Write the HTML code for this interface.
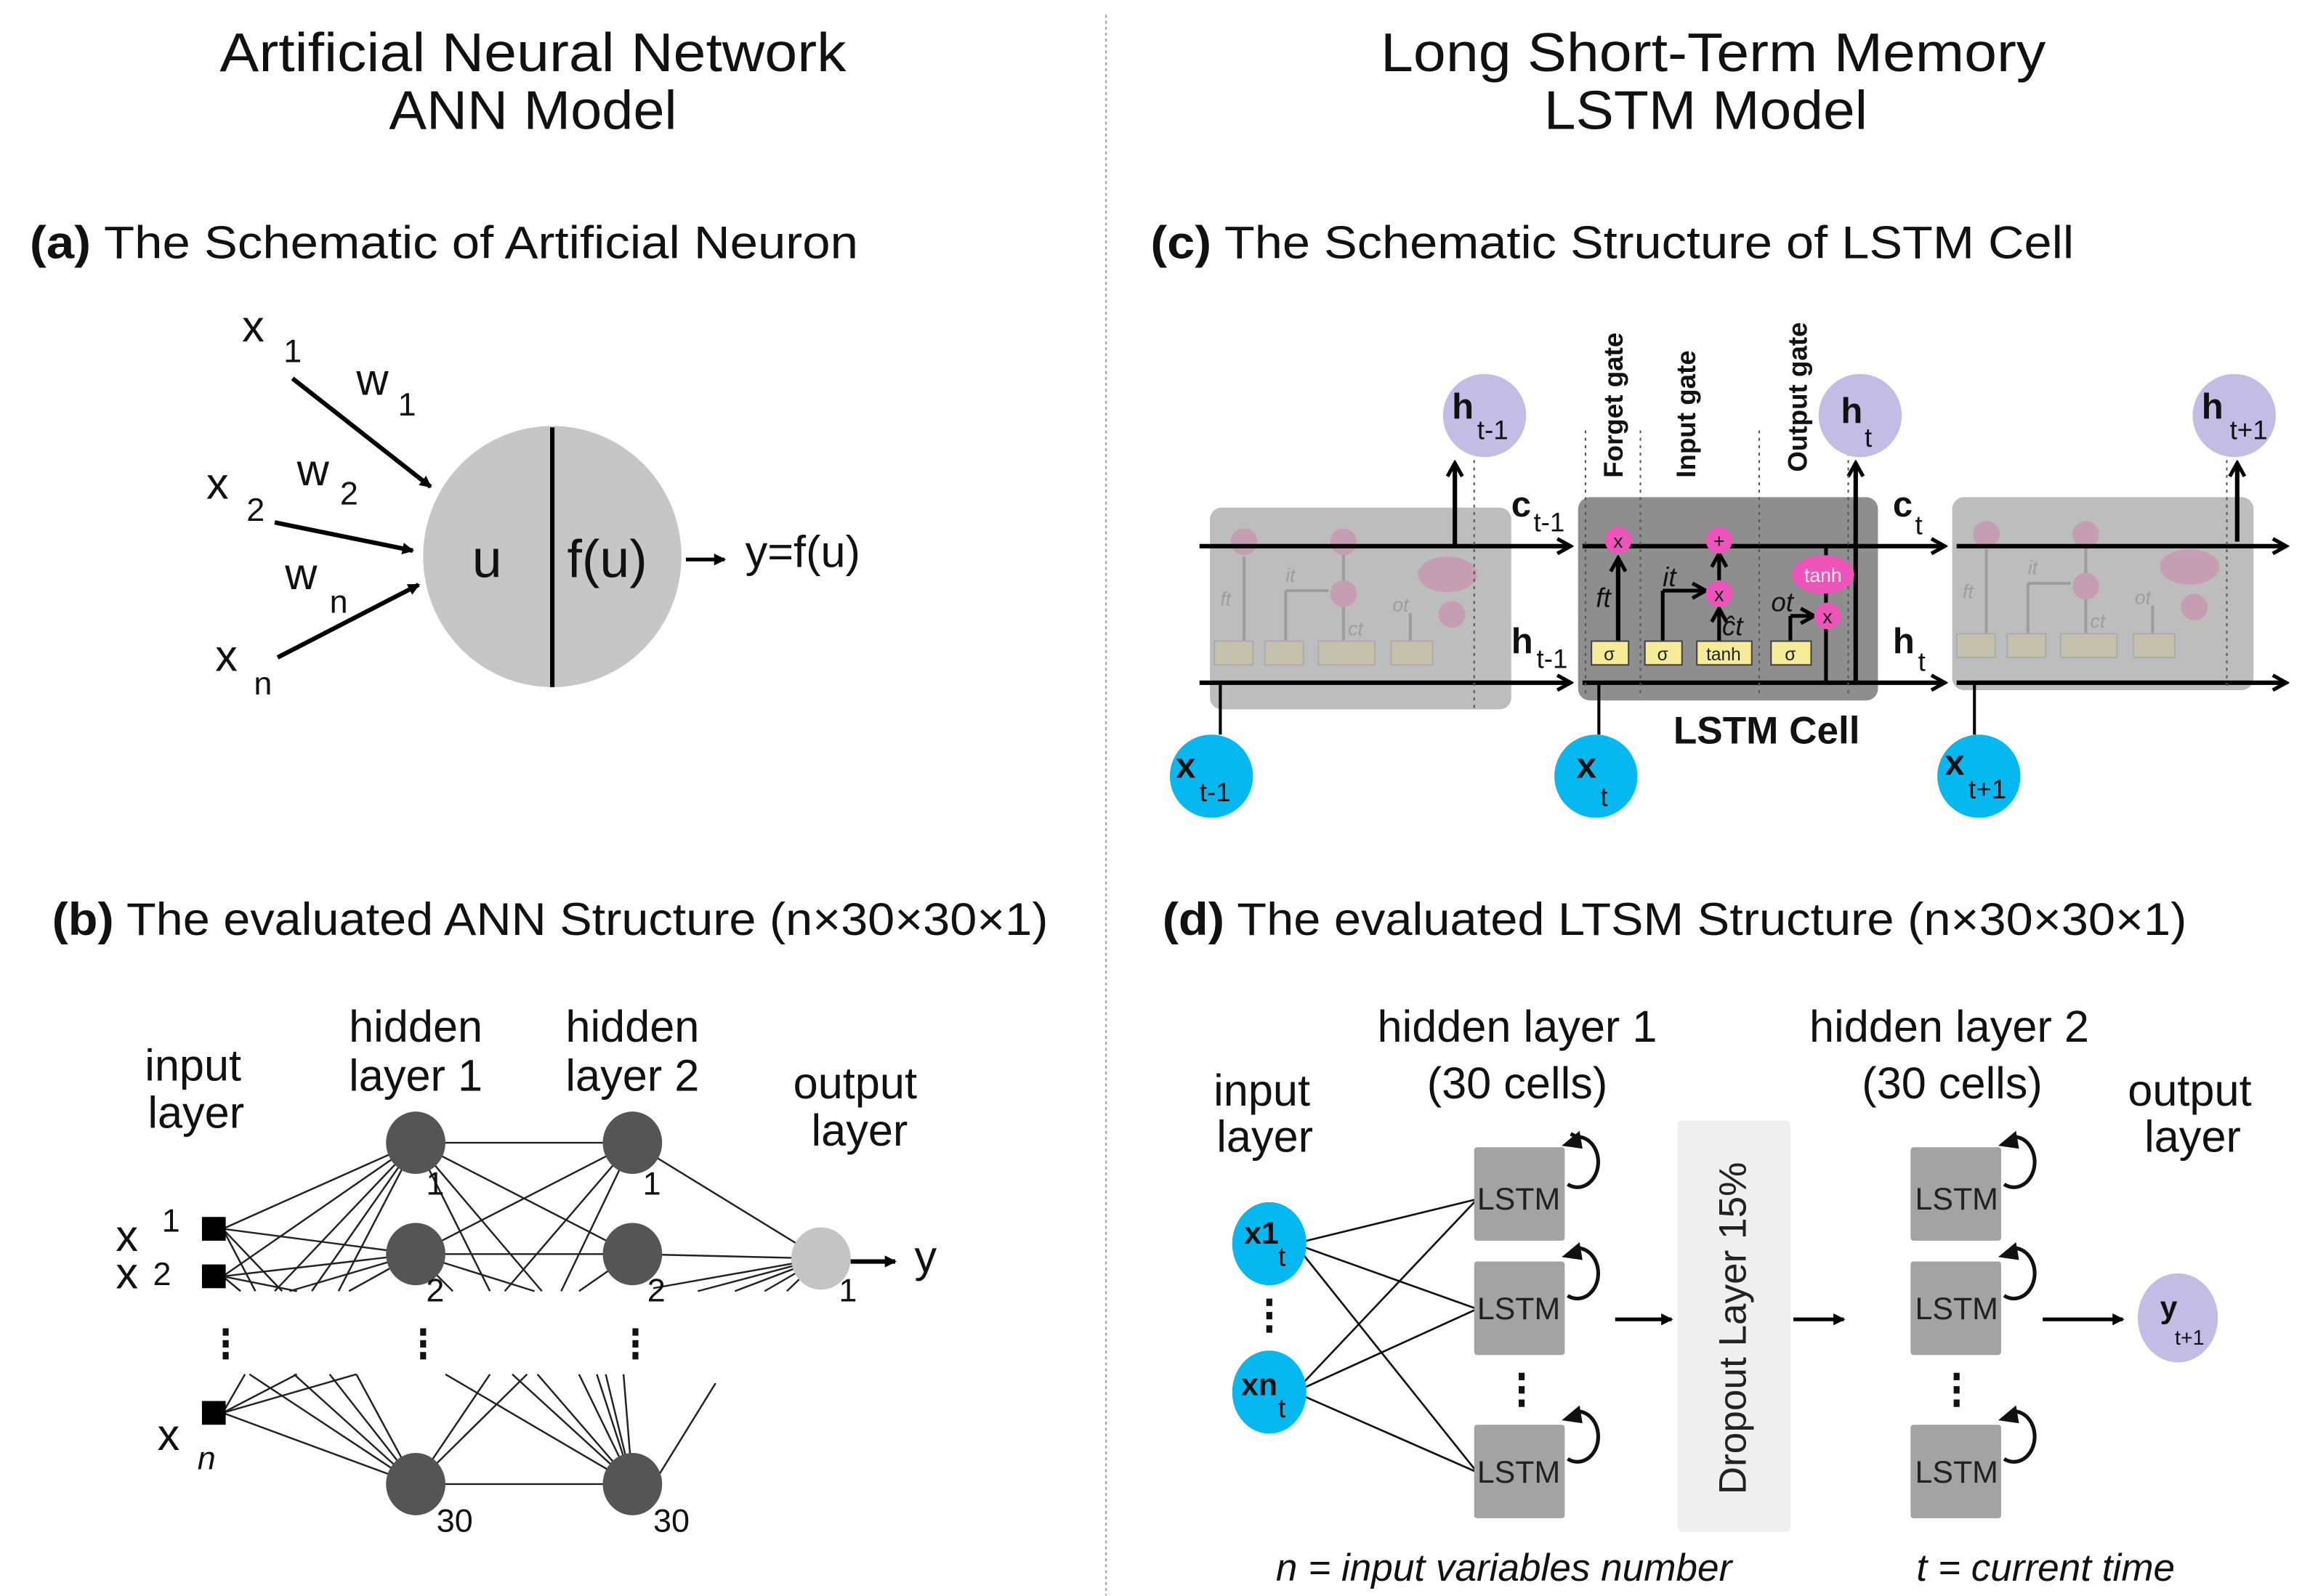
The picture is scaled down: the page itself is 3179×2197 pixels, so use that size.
<!DOCTYPE html>
<html><head><meta charset="utf-8"><style>
html,body{margin:0;padding:0;background:#fff}
svg{display:block}
text{font-family:"Liberation Sans",sans-serif}
</style></head><body>
<svg width="3179" height="2197" viewBox="0 0 1556 1075.4" xmlns="http://www.w3.org/2000/svg">
<defs>
<marker id="ar" markerWidth="8" markerHeight="8" refX="7" refY="4" orient="auto" markerUnits="userSpaceOnUse"><path d="M0,0 L8,4 L0,8 z" fill="#000"/></marker>
<marker id="ao" markerWidth="12" markerHeight="12" refX="10" refY="6" orient="auto" markerUnits="userSpaceOnUse"><path d="M1,1 L10,6 L1,11" fill="none" stroke="#000" stroke-width="2.5"/></marker>
<marker id="ag" markerWidth="12" markerHeight="12" refX="10" refY="6" orient="auto" markerUnits="userSpaceOnUse"><path d="M1,1 L10,6 L1,11" fill="none" stroke="#666" stroke-width="2.5"/></marker>
</defs>
<rect width="1556" height="1076" fill="#fff"/>
<line x1="745" y1="10" x2="745" y2="1075" stroke="#aaa" stroke-width="1.2" stroke-dasharray="2,2"/>

<!-- titles -->
<g font-size="37" text-anchor="middle" fill="#111">
<text x="359" y="48" textLength="422" lengthAdjust="spacingAndGlyphs">Artificial Neural Network</text>
<text x="359" y="87" textLength="194" lengthAdjust="spacingAndGlyphs">ANN Model</text>
<text x="1154" y="48" textLength="448" lengthAdjust="spacingAndGlyphs">Long Short-Term Memory</text>
<text x="1149" y="87" textLength="218" lengthAdjust="spacingAndGlyphs">LSTM Model</text>
</g>
<g font-size="31" fill="#111">
<text x="20" y="174" textLength="558" lengthAdjust="spacingAndGlyphs"><tspan font-weight="bold">(a)</tspan> The Schematic of Artificial Neuron</text>
<text x="775" y="174" textLength="622" lengthAdjust="spacingAndGlyphs"><tspan font-weight="bold">(c)</tspan> The Schematic Structure of LSTM Cell</text>
<text x="35" y="630" textLength="671" lengthAdjust="spacingAndGlyphs"><tspan font-weight="bold">(b)</tspan> The evaluated ANN Structure (n×30×30×1)</text>
<text x="783" y="630" textLength="690" lengthAdjust="spacingAndGlyphs"><tspan font-weight="bold">(d)</tspan> The evaluated LTSM Structure (n×30×30×1)</text>
</g>

<!-- (a) neuron -->
<ellipse cx="372" cy="375" rx="87" ry="88" fill="#c6c6c6"/>
<line x1="372" y1="288" x2="372" y2="463" stroke="#000" stroke-width="3"/>
<g font-size="36" fill="#111">
<text x="318" y="389">u</text>
<text x="382" y="389">f(u)</text>
</g>
<line x1="462" y1="377" x2="488" y2="377" stroke="#000" stroke-width="2.5" marker-end="url(#ar)"/>
<text x="502" y="382" font-size="30" fill="#111">y=f(u)</text>
<g stroke="#000" stroke-width="3" marker-end="url(#ar)">
<line x1="197" y1="255" x2="290" y2="328"/>
<line x1="185" y1="352" x2="278" y2="371"/>
<line x1="187" y1="443" x2="282" y2="394"/>
</g>
<g font-size="30" fill="#111">
<text x="163" y="230">x</text><text x="191" y="244" font-size="22">1</text>
<text x="240" y="266">w</text><text x="268" y="280" font-size="22">1</text>
<text x="139" y="336">x</text><text x="166" y="351" font-size="22">2</text>
<text x="200" y="327">w</text><text x="229" y="340" font-size="22">2</text>
<text x="192" y="397">w</text><text x="222" y="413" font-size="22">n</text>
<text x="145" y="452">x</text><text x="171" y="468" font-size="22">n</text>
</g>

<!-- (b) ANN -->
<g font-size="30" fill="#111" text-anchor="middle">
<text x="130" y="728">input</text><text x="132" y="760">layer</text>
<text x="280" y="702">hidden</text><text x="280" y="735">layer 1</text>
<text x="426" y="702">hidden</text><text x="426" y="735">layer 2</text>
<text x="576" y="740">output</text><text x="579" y="772">layer</text>
</g>
<g stroke="#222" stroke-width="1.2">
<!-- inputs to h1 -->
<line x1="150" y1="828" x2="280" y2="770"/><line x1="150" y1="828" x2="280" y2="845"/>
<line x1="150" y1="860" x2="280" y2="770"/><line x1="150" y1="860" x2="280" y2="845"/>
<line x1="150" y1="828" x2="172" y2="870"/><line x1="150" y1="828" x2="190" y2="870"/><line x1="150" y1="860" x2="162" y2="870"/><line x1="150" y1="860" x2="200" y2="870"/>
<line x1="185" y1="870" x2="280" y2="770"/><line x1="210" y1="870" x2="280" y2="770"/><line x1="228" y1="870" x2="280" y2="770"/>
<line x1="195" y1="870" x2="280" y2="845"/><line x1="235" y1="870" x2="280" y2="845"/>
<!-- h1 to h2 -->
<line x1="280" y1="770" x2="426" y2="770"/><line x1="280" y1="770" x2="426" y2="845"/>
<line x1="280" y1="845" x2="426" y2="770"/><line x1="280" y1="845" x2="426" y2="845"/>
<line x1="280" y1="770" x2="330" y2="870"/><line x1="280" y1="770" x2="365" y2="870"/><line x1="280" y1="845" x2="305" y2="870"/><line x1="280" y1="845" x2="360" y2="870"/>
<line x1="340" y1="870" x2="426" y2="770"/><line x1="378" y1="870" x2="426" y2="770"/><line x1="390" y1="870" x2="426" y2="845"/>
<!-- h2 to out -->
<line x1="426" y1="770" x2="553" y2="848"/><line x1="426" y1="845" x2="553" y2="848"/>
<line x1="440" y1="868" x2="553" y2="848"/><line x1="470" y1="870" x2="553" y2="848"/><line x1="495" y1="870" x2="553" y2="848"/><line x1="515" y1="870" x2="553" y2="848"/><line x1="530" y1="870" x2="553" y2="848"/>
<!-- bottom -->
<line x1="150" y1="952" x2="165" y2="926"/><line x1="150" y1="952" x2="200" y2="926"/><line x1="150" y1="952" x2="240" y2="926"/>
<line x1="150" y1="952" x2="280" y2="1000"/>
<line x1="168" y1="926" x2="280" y2="1000"/><line x1="198" y1="926" x2="280" y2="1000"/><line x1="222" y1="926" x2="280" y2="1000"/><line x1="240" y1="926" x2="280" y2="1000"/>
<line x1="280" y1="1000" x2="426" y2="1000"/>
<line x1="280" y1="1000" x2="330" y2="926"/><line x1="280" y1="1000" x2="355" y2="926"/>
<line x1="300" y1="926" x2="426" y2="1000"/><line x1="345" y1="926" x2="426" y2="1000"/><line x1="362" y1="926" x2="426" y2="1000"/><line x1="390" y1="926" x2="426" y2="1000"/><line x1="402" y1="926" x2="426" y2="1000"/>
<line x1="426" y1="1000" x2="408" y2="926"/><line x1="426" y1="1000" x2="420" y2="926"/>
<line x1="440" y1="1000" x2="482" y2="932"/>
</g>
<rect x="136" y="820" width="16" height="16" fill="#000"/>
<rect x="136" y="852" width="16" height="16" fill="#000"/>
<rect x="136" y="944" width="16" height="16" fill="#000"/>
<g fill="#555">
<ellipse cx="280" cy="770" rx="20" ry="21"/><ellipse cx="280" cy="845" rx="20" ry="21"/><ellipse cx="280" cy="1000" rx="20" ry="21"/>
<ellipse cx="426" cy="770" rx="20" ry="21"/><ellipse cx="426" cy="845" rx="20" ry="21"/><ellipse cx="426" cy="1000" rx="20" ry="21"/>
</g>
<ellipse cx="553" cy="848" rx="20" ry="21" fill="#c4c4c4"/>
<line x1="573" y1="850" x2="603" y2="850" stroke="#000" stroke-width="3" marker-end="url(#ar)"/>
<g font-size="22" fill="#111">
<text x="287" y="805">1</text><text x="287" y="877">2</text><text x="294" y="1032">30</text>
<text x="433" y="805">1</text><text x="436" y="877">2</text><text x="440" y="1032">30</text>
<text x="565" y="877">1</text>
<text x="109" y="830">1</text><text x="103" y="866">2</text>
</g>
<g font-size="30" fill="#111">
<text x="616" y="857">y</text>
<text x="78" y="843">x</text><text x="78" y="868">x</text><text x="106" y="977">x</text>
<text x="133" y="990" font-size="22" font-style="italic">n</text>
</g>
<g fill="#111">
<rect x="150" y="895" width="4" height="5"/><rect x="150" y="903" width="4" height="5"/><rect x="150" y="911" width="4" height="5"/>
<rect x="283" y="895" width="4" height="5"/><rect x="283" y="903" width="4" height="5"/><rect x="283" y="911" width="4" height="5"/>
<rect x="426" y="895" width="4" height="5"/><rect x="426" y="903" width="4" height="5"/><rect x="426" y="911" width="4" height="5"/>
</g>

<!-- (c) LSTM -->
<rect x="815" y="342" width="203" height="136" rx="8" fill="#bdbdbd"/>
<rect x="1063" y="335" width="202" height="137" rx="8" fill="#8e8e8e"/>
<rect x="1315" y="335" width="203" height="130" rx="8" fill="#bdbdbd"/>
<!-- faded cell internals -->
<g opacity="0.45">
<g id="faded">
<line x1="838" y1="440" x2="838" y2="375" stroke="#777" stroke-width="2"/>
<line x1="866" y1="440" x2="866" y2="398" stroke="#777" stroke-width="2"/><line x1="866" y1="398" x2="895" y2="398" stroke="#777" stroke-width="2"/>
<line x1="905" y1="440" x2="905" y2="372" stroke="#777" stroke-width="2"/>
<line x1="950" y1="440" x2="950" y2="413" stroke="#777" stroke-width="2"/>
<circle cx="838" cy="365" r="9" fill="#d07aa8"/><circle cx="905" cy="365" r="9" fill="#d07aa8"/><circle cx="905" cy="400" r="9" fill="#d07aa8"/><circle cx="978" cy="414" r="9" fill="#d07aa8"/>
<ellipse cx="975" cy="387" rx="20" ry="12" fill="#d07aa8"/>
<rect x="818" y="432" width="26" height="16" fill="#cfc79a" stroke="#999"/><rect x="852" y="432" width="26" height="16" fill="#cfc79a" stroke="#999"/><rect x="888" y="432" width="38" height="16" fill="#cfc79a" stroke="#999"/><rect x="937" y="432" width="28" height="16" fill="#cfc79a" stroke="#999"/>
<g font-size="13" fill="#777" font-style="italic"><text x="822" y="408">ft</text><text x="866" y="392">it</text><text x="908" y="428">ct</text><text x="938" y="412">ot</text></g>
</g>
</g>
<g opacity="0.45" transform="translate(500,-5)"><use href="#faded"/></g>
<!-- main lines -->
<g stroke="#000" stroke-width="3" fill="none">
<line x1="808" y1="368" x2="1058" y2="368" marker-end="url(#ao)"/>
<line x1="808" y1="460" x2="1058" y2="460" marker-end="url(#ao)"/>
<line x1="1066" y1="368" x2="1310" y2="368" marker-end="url(#ao)"/>
<line x1="1066" y1="460" x2="1310" y2="460" marker-end="url(#ao)"/>
<line x1="1318" y1="368" x2="1540" y2="368" marker-end="url(#ao)"/>
<line x1="1318" y1="460" x2="1540" y2="460" marker-end="url(#ao)"/>
<line x1="980" y1="368" x2="980" y2="312" marker-end="url(#ao)"/>
<line x1="1250" y1="460" x2="1250" y2="312" marker-end="url(#ao)"/>
<line x1="1507" y1="365" x2="1507" y2="312" marker-end="url(#ao)"/>
<line x1="1090" y1="440" x2="1090" y2="376" marker-end="url(#ao)"/>
<line x1="1120" y1="440" x2="1120" y2="398" stroke-width="2.5"/><line x1="1120" y1="398" x2="1149" y2="398" marker-end="url(#ao)" stroke-width="2.5"/>
<line x1="1158" y1="440" x2="1158" y2="410" marker-end="url(#ao)" stroke-width="2.5"/>
<line x1="1158" y1="392" x2="1158" y2="373" marker-end="url(#ao)" stroke-width="2.5"/>
<line x1="1206" y1="440" x2="1206" y2="415" stroke-width="2.5"/><line x1="1206" y1="415" x2="1222" y2="415" marker-end="url(#ao)" stroke-width="2.5"/>
<line x1="1230" y1="368" x2="1230" y2="460" stroke-width="2.5"/>
<line x1="822" y1="495" x2="822" y2="460" stroke-width="2"/>
<line x1="1077" y1="495" x2="1077" y2="460" stroke-width="2"/>
<line x1="1330" y1="495" x2="1330" y2="460" stroke-width="2"/>
</g>
<g stroke="#555" stroke-width="1" stroke-dasharray="2,3">
<line x1="1068" y1="290" x2="1068" y2="470"/><line x1="1105" y1="290" x2="1105" y2="470"/><line x1="1185" y1="290" x2="1185" y2="470"/><line x1="1245" y1="290" x2="1245" y2="470"/>
<line x1="993" y1="300" x2="993" y2="478"/><line x1="1500" y1="300" x2="1500" y2="465"/>
</g>
<g fill="#ee55bb">
<circle cx="1090" cy="364" r="9"/><circle cx="1158" cy="364" r="9"/><circle cx="1158" cy="400" r="9"/><circle cx="1231" cy="415" r="9"/>
<ellipse cx="1228" cy="387" rx="21" ry="13"/>
</g>
<g font-size="13" fill="#111" text-anchor="middle"><text x="1090" y="369">x</text><text x="1158" y="369">+</text><text x="1158" y="405">x</text><text x="1231" y="420">x</text><text x="1228" y="392" fill="#eee">tanh</text></g>
<g fill="#f6ec98" stroke="#444" stroke-width="1">
<rect x="1072" y="432" width="25" height="16"/><rect x="1108" y="432" width="25" height="16"/><rect x="1143" y="432" width="37" height="16"/><rect x="1193" y="432" width="27" height="16"/>
</g>
<g font-size="12" fill="#222" text-anchor="middle"><text x="1084" y="445">σ</text><text x="1120" y="445">σ</text><text x="1161" y="445">tanh</text><text x="1206" y="445">σ</text></g>
<g font-size="18" font-style="italic" fill="#111"><text x="1075" y="409">ft</text><text x="1120" y="395">it</text><text x="1160" y="428">ĉt</text><text x="1193" y="412">ot</text></g>
<g font-size="18" font-weight="bold" fill="#111">
<text transform="translate(1093,322) rotate(-90)">Forget gate</text>
<text transform="translate(1142,322) rotate(-90)">Input gate</text>
<text transform="translate(1217,318) rotate(-90)">Output gate</text>
</g>
<g font-size="24" font-weight="bold" fill="#111">
<text x="1018" y="348">c</text><text x="1033" y="358" font-size="18" font-weight="normal">t-1</text>
<text x="1018" y="440">h</text><text x="1035" y="450" font-size="18" font-weight="normal">t-1</text>
<text x="1275" y="348">c</text><text x="1290" y="360" font-size="18" font-weight="normal">t</text>
<text x="1275" y="440">h</text><text x="1292" y="452" font-size="18" font-weight="normal">t</text>
<text x="1190" y="501" text-anchor="middle" font-size="26">LSTM Cell</text>
</g>
<g fill="#c3bde6"><circle cx="1000" cy="280" r="28"/><circle cx="1253" cy="280" r="28"/><circle cx="1505" cy="280" r="28"/></g>
<g fill="#06b8f0"><circle cx="816" cy="523" r="28"/><circle cx="1075" cy="523" r="28"/><circle cx="1333" cy="523" r="28"/></g>
<g font-size="24" font-weight="bold" fill="#111">
<text x="978" y="282">h</text><text x="995" y="296" font-size="18" font-weight="normal">t-1</text>
<text x="1240" y="285">h</text><text x="1256" y="301" font-size="18" font-weight="normal">t</text>
<text x="1483" y="282">h</text><text x="1502" y="296" font-size="18" font-weight="normal">t+1</text>
<text x="792" y="524">x</text><text x="808" y="540" font-size="18" font-weight="normal">t-1</text>
<text x="1062" y="524">x</text><text x="1078" y="543" font-size="18" font-weight="normal">t</text>
<text x="1310" y="522">x</text><text x="1326" y="538" font-size="18" font-weight="normal">t+1</text>
</g>

<!-- (d) LSTM structure -->
<g font-size="30" fill="#111" text-anchor="middle">
<text x="850" y="745">input</text><text x="852" y="776">layer</text>
<text x="1022" y="702">hidden layer 1</text><text x="1022" y="740">(30 cells)</text>
<text x="1313" y="702">hidden layer 2</text><text x="1315" y="740">(30 cells)</text>
<text x="1475" y="745">output</text><text x="1477" y="776">layer</text>
</g>
<rect x="1130" y="755" width="76" height="277" rx="3" fill="#efefef"/>
<text transform="translate(1176,895) rotate(-90)" font-size="26" fill="#222" text-anchor="middle">Dropout Layer 15%</text>
<g stroke="#111" stroke-width="1.3">
<line x1="872" y1="838" x2="995" y2="808"/><line x1="872" y1="838" x2="995" y2="882"/><line x1="872" y1="838" x2="995" y2="992"/>
<line x1="872" y1="938" x2="995" y2="808"/><line x1="872" y1="938" x2="995" y2="882"/><line x1="872" y1="938" x2="995" y2="992"/>
</g>
<g fill="#a3a3a3">
<rect x="993" y="773" width="61" height="63" rx="2"/><rect x="993" y="850" width="61" height="63" rx="2"/><rect x="993" y="960" width="61" height="63" rx="2"/>
<rect x="1287" y="773" width="61" height="63" rx="2"/><rect x="1287" y="850" width="61" height="63" rx="2"/><rect x="1287" y="960" width="61" height="63" rx="2"/>
</g>
<g font-size="21" fill="#222" text-anchor="middle">
<text x="1023" y="815">LSTM</text><text x="1023" y="889">LSTM</text><text x="1023" y="999">LSTM</text>
<text x="1318" y="815">LSTM</text><text x="1318" y="889">LSTM</text><text x="1318" y="999">LSTM</text>
</g>
<g fill="none" stroke="#111" stroke-width="2.5">
<path d="M1056,798 A14,17 0 1 0 1062,766 l-4,-2"/><path d="M1056,873 A14,17 0 1 0 1062,841"/><path d="M1056,983 A14,17 0 1 0 1062,951"/>
<path d="M1350,798 A14,17 0 1 0 1356,766"/><path d="M1350,873 A14,17 0 1 0 1356,841"/><path d="M1350,983 A14,17 0 1 0 1356,951"/>
</g>
<g fill="#111">
<path d="M1052,772 l12,-10 l2,12 z"/><path d="M1052,847 l12,-10 l2,12 z"/><path d="M1052,957 l12,-10 l2,12 z"/>
<path d="M1346,772 l12,-10 l2,12 z"/><path d="M1346,847 l12,-10 l2,12 z"/><path d="M1346,957 l12,-10 l2,12 z"/>
</g>
<g stroke="#000" stroke-width="2.5" marker-end="url(#ar)">
<line x1="1088" y1="889" x2="1126" y2="889"/><line x1="1208" y1="889" x2="1242" y2="889"/><line x1="1376" y1="889" x2="1430" y2="889"/>
</g>
<g fill="#06b8f0"><ellipse cx="855" cy="838" rx="25" ry="28"/><ellipse cx="855" cy="938" rx="25" ry="28"/></g>
<ellipse cx="1467" cy="888" rx="27" ry="30" fill="#c3bde6"/>
<g font-size="21" font-weight="bold" fill="#111">
<text x="838" y="838">x1</text><text x="861" y="853" font-size="18" font-weight="normal">t</text>
<text x="836" y="940">xn</text><text x="861" y="955" font-size="18" font-weight="normal">t</text>
<text x="1455" y="888">y</text><text x="1465" y="906" font-size="14" font-weight="normal">t+1</text>
</g>
<g fill="#111">
<rect x="853" y="875" width="4" height="5"/><rect x="853" y="884" width="4" height="5"/><rect x="853" y="893" width="4" height="5"/>
<rect x="1023" y="925" width="4" height="5"/><rect x="1023" y="934" width="4" height="5"/><rect x="1023" y="943" width="4" height="5"/>
<rect x="1316" y="925" width="4" height="5"/><rect x="1316" y="934" width="4" height="5"/><rect x="1316" y="943" width="4" height="5"/>
</g>
<g font-size="26" font-style="italic" fill="#111" text-anchor="middle">
<text x="1013" y="1065">n = input variables number</text>
<text x="1378" y="1065">t = current time</text>
</g>
</svg>
</body></html>
